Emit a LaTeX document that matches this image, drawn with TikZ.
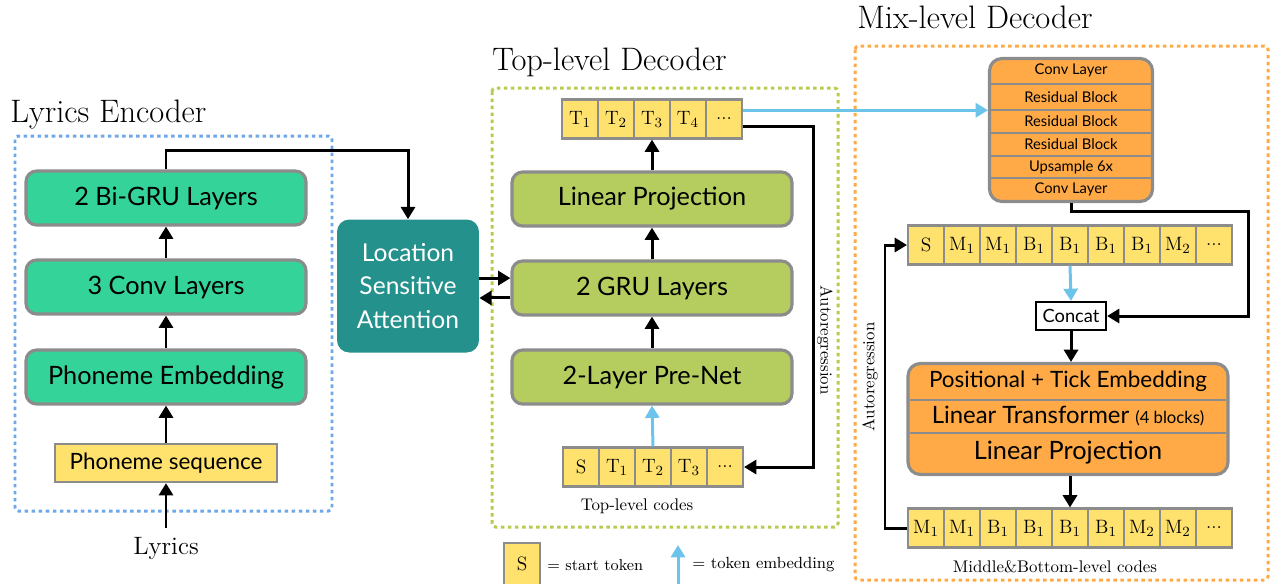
\documentclass[tikz,border=0pt]{standalone}
\usepackage{fontspec}
\setsansfont{Lato}
\usetikzlibrary{arrows.meta,positioning}
\definecolor{encgreen}{HTML}{34D399}
\definecolor{decgreen}{HTML}{B5CC5E}
\definecolor{mixorange}{HTML}{FFAA46}
\definecolor{tokyellow}{HTML}{FFE26E}
\definecolor{boxgray}{HTML}{8C8C8C}
\definecolor{attteal}{HTML}{24918C}
\definecolor{embblue}{HTML}{6CC4EA}
\definecolor{encframe}{HTML}{6FA8E8}
\definecolor{decframe}{HTML}{B5CC4F}
\begin{document}
\begin{tikzpicture}[x=0.02cm, y=-0.02cm,
  layer/.style={draw=boxgray, line width=1.8pt, rounded corners=6pt,
    minimum width=5.6cm, minimum height=1.08cm,
    font=\sffamily\fontsize{14.4}{17}\selectfont},
  mixblock/.style={draw=boxgray, fill=mixorange, line width=1.8pt, rounded corners=7pt},
  mixrow/.style={inner sep=0pt, outer sep=0pt, font=\sffamily\fontsize{8.4}{10}\selectfont},
  rowsplit/.style={boxgray, line width=1pt},
  tok/.style={draw=boxgray, fill=tokyellow, line width=1.2pt, inner sep=0pt,
    minimum width=0.72cm, minimum height=0.78cm, font=\fontsize{11}{13}\selectfont},
  flow/.style={-{Triangle[length=7pt,width=8pt]}, line width=1.7pt},
  embed/.style={flow, embblue},
  frame/.style={line width=1.7pt, dash pattern=on 2pt off 2pt, rounded corners=2pt},
  title/.style={anchor=base west, inner sep=0pt, font=\fontsize{18.5}{21}\selectfont},
  caption/.style={inner sep=0pt, font=\fontsize{9.6}{11}\selectfont}]
\useasboundingbox (0,0) rectangle (1273,583);

% lyrics encoder
\node (enctitle) [title] at (10,122) {Lyrics Encoder};
\draw[frame, encframe] (15,136) rectangle (332,511);
\node (bigru) [layer, fill=encgreen] at (166,198) {2 Bi-GRU Layers};
\node (conv) [layer, fill=encgreen] at (166,287) {3 Conv Layers};
\node (phemb) [layer, fill=encgreen] at (166,377) {Phoneme Embedding};
\node (phseq) [draw=boxgray, fill=tokyellow, line width=1.3pt, minimum width=4.45cm,
  minimum height=0.76cm, font=\sffamily\fontsize{12.8}{15}\selectfont] at (166,463) {Phoneme sequence};
\node (lyrics) [inner sep=0pt, font=\fontsize{14.3}{16}\selectfont] at (166,548) {Lyrics};
\draw[flow] ([yshift=5pt]lyrics.north) -- (phseq.south);
\draw[flow] (phseq.north) -- (phemb.south);
\draw[flow] (phemb.north) -- (conv.south);
\draw[flow] (conv.north) -- (bigru.south);

% attention
\node (att) [fill=attteal, rounded corners=7pt, minimum width=2.84cm, minimum height=2.66cm,
  text=white, align=center, font=\sffamily\fontsize{14}{19.3}\selectfont] at (408,286)
  {Location\\Sensitive\\Attention};
\draw[flow] (bigru.north) -- ++(0,-19) -| (att.north);

% top-level decoder
\node (toptitle) [title] at (492,70) {Top-level Decoder};
\draw[frame, decframe] (492,88) rectangle (838,527);
\node (linproj) [layer, fill=decgreen] at (652,199) {Linear Projection};
\node (gru) [layer, fill=decgreen] at (652,288) {2 GRU Layers};
\node (prenet) [layer, fill=decgreen] at (652,377) {2-Layer Pre-Net};
\matrix (toprow) [column sep=-1.2pt, inner sep=0pt] at (652,119) {
  \node (tout1) [tok] {T$_1$}; & \node (tout2) [tok] {T$_2$}; &
  \node (tout3) [tok] {T$_3$}; & \node (tout4) [tok] {T$_4$}; &
  \node (tout5) [tok] {...}; \\
};
\matrix (toprowin) [column sep=-1.2pt, inner sep=0pt] at (653,467) {
  \node (tin1) [tok] {S}; & \node (tin2) [tok] {T$_1$}; &
  \node (tin3) [tok] {T$_2$}; & \node (tin4) [tok] {T$_3$}; &
  \node (tin5) [tok] {...}; \\
};
\node (topcodes) [caption] at (637,506) {Top-level codes};
\draw[embed] (tin3.north) -- (prenet.south);
\draw[flow] (prenet.north) -- (gru.south);
\draw[flow] (gru.north) -- (linproj.south);
\draw[flow] (linproj.north) -- (tout3.south);
\draw[flow] ([yshift=4.5pt]att.east) -- ([yshift=4.5pt]att.east -| gru.west);
\draw[flow] ([yshift=-6.8pt]att.east -| gru.west) -- ([yshift=-6.8pt]att.east);
\draw[flow] ([yshift=-4pt]tout5.east) -- ++(70,0) |- (tin5.east);
\node (topauto) [caption, rotate=-90] at (825,340) {Autoregression};

% mix-level decoder
\node (mixtitle) [title] at (857,28) {Mix-level Decoder};
\draw[frame, mixorange] (855,46) rectangle (1268,580);
\node (upsamp) [mixblock, minimum width=3.26cm, minimum height=2.86cm] at (1071,130) {};
\node (up1) [mixrow, minimum width=3.2cm, minimum height=0.54cm, below=0pt of upsamp.north] {Conv Layer};
\node (up2) [mixrow, minimum width=3.2cm, minimum height=0.52cm, below=0pt of up1] {Residual Block};
\node (up3) [mixrow, minimum width=3.2cm, minimum height=0.46cm, below=0pt of up2] {Residual Block};
\node (up4) [mixrow, minimum width=3.2cm, minimum height=0.46cm, below=0pt of up3] {Residual Block};
\node (up5) [mixrow, minimum width=3.2cm, minimum height=0.44cm, below=0pt of up4] {Upsample 6x};
\node (up6) [mixrow, minimum width=3.2cm, minimum height=0.44cm, below=0pt of up5] {Conv Layer};
\foreach \row in {up2,up3,up4,up5,up6}
  \draw[rowsplit] (\row.north west) -- (\row.north east);
\matrix (midrow) [column sep=-1.2pt, inner sep=0pt] at (1070,245) {
  \node (mid1) [tok] {S}; & \node (mid2) [tok] {M$_1$}; & \node (mid3) [tok] {M$_1$}; &
  \node (mid4) [tok] {B$_1$}; & \node (mid5) [tok] {B$_1$}; & \node (mid6) [tok] {B$_1$}; &
  \node (mid7) [tok] {B$_1$}; & \node (mid8) [tok] {M$_2$}; & \node (mid9) [tok] {...}; \\
};
\node (concat) [draw, line width=1.2pt, minimum width=1.4cm, minimum height=0.56cm,
  inner sep=0pt, font=\sffamily\fontsize{10.4}{12}\selectfont] at (1071,316) {Concat};
\node (tfm) [mixblock, minimum width=6.4cm, minimum height=2.22cm] at (1068,419) {};
\node (tfm1) [mixrow, minimum width=6.34cm, minimum height=0.76cm, below=0pt of tfm.north,
  font=\sffamily\fontsize{12.8}{15}\selectfont] {Positional + Tick Embedding};
\node (tfm2) [mixrow, minimum width=6.34cm, minimum height=0.66cm, below=0pt of tfm1,
  font=\sffamily\fontsize{13.6}{16}\selectfont] {Linear Transformer {\fontsize{9.5}{11}\selectfont(4 blocks)}};
\node (tfm3) [mixrow, minimum width=6.34cm, minimum height=0.8cm, below=0pt of tfm2,
  font=\sffamily\fontsize{14.4}{17}\selectfont] {Linear Projection};
\foreach \row in {tfm2,tfm3}
  \draw[rowsplit] (\row.north west) -- (\row.north east);
\matrix (mbrow) [column sep=-1.2pt, inner sep=0pt] at (1070,528) {
  \node (out1) [tok] {M$_1$}; & \node (out2) [tok] {M$_1$}; & \node (out3) [tok] {B$_1$}; &
  \node (out4) [tok] {B$_1$}; & \node (out5) [tok] {B$_1$}; & \node (out6) [tok] {B$_1$}; &
  \node (out7) [tok] {M$_2$}; & \node (out8) [tok] {M$_2$}; & \node (out9) [tok] {...}; \\
};
\node (mbcodes) [caption] at (1055,567) {Middle\&Bottom-level codes};
\draw[embed] ([yshift=5pt]tout5.east) -- ([yshift=5pt]tout5.east -| upsamp.west);
\draw[flow] (upsamp.south) -- ++(0,8) -| ([xshift=2.82cm]concat.east) -- (concat.east);
\draw[embed] (mid5.south) -- (concat.north);
\draw[flow] (concat.south) -- (concat.south |- tfm.north);
\draw[flow] (tfm.south -| out5.north) -- (out5.north);
\draw[flow] (out1.west) -- ++(-22,0) |- (mid1.west);
\node (mixauto) [caption, rotate=90] at (870,377) {Autoregression};

% legend
\node (legstart) [tok, minimum height=0.84cm] at (522,564) {S};
\node (legstarttxt) [caption, anchor=west, font=\fontsize{9}{11}\selectfont] at (547,565) {= start token};
\coordinate (legarrow) at (678,590);
\draw[embed] (legarrow) -- ++(0,-45);
\node (legembtxt) [caption, anchor=west, font=\fontsize{9.2}{11}\selectfont] at (692,565) {= token embedding};
\end{tikzpicture}
\end{document}
